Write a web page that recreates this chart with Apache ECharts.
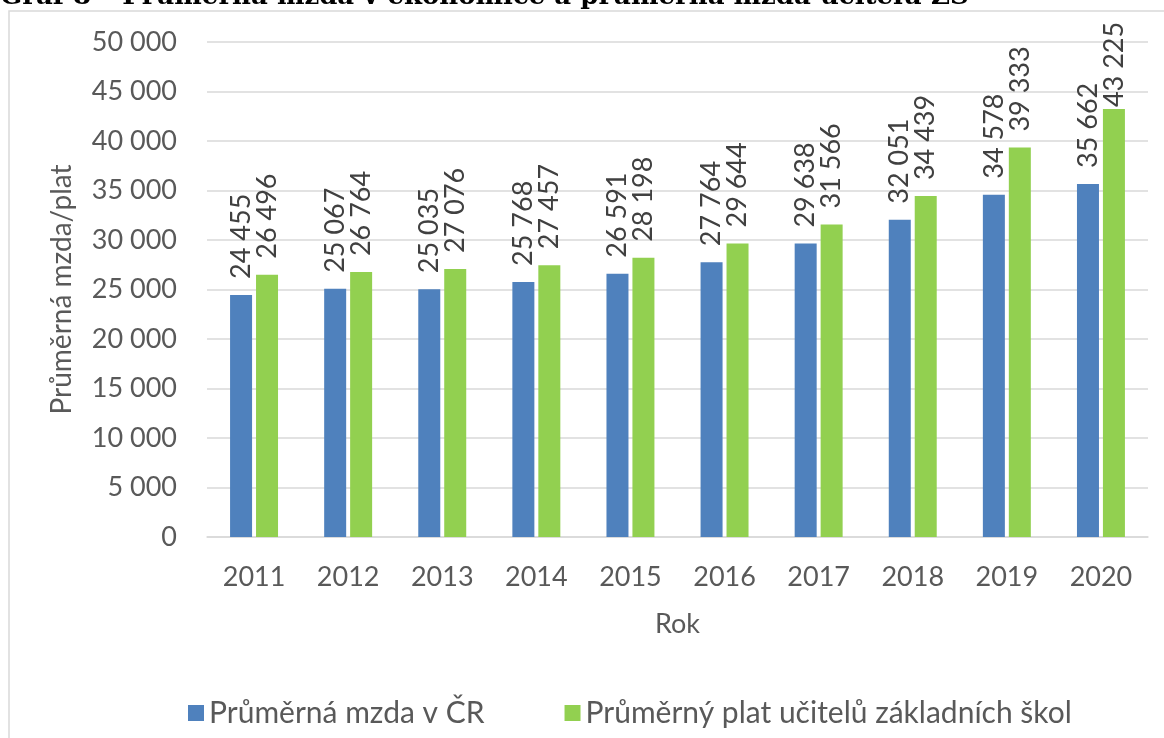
<!DOCTYPE html>
<html>
<head>
<meta charset="utf-8">
<script src="https://cdn.jsdelivr.net/npm/echarts@6/dist/echarts.min.js"></script>
<style>
  html, body { margin: 0; padding: 0; background: #fff; }
  #chart { width: 1164px; height: 738px; }
</style>
</head>
<body>
<div id="chart"></div>
<script>
// data
const years = ['2011', '2012', '2013', '2014', '2015', '2016', '2017', '2018', '2019', '2020'];
const mzdaCR = [24455, 25067, 25035, 25768, 26591, 27764, 29638, 32051, 34578, 35662];
const platUcitelu = [26496, 26764, 27076, 27457, 28198, 29644, 31566, 34439, 39333, 43225];
const seriesNames = ['Průměrná mzda v ČR', 'Průměrný plat učitelů základních škol'];

const FONT = 'Lato, "Open Sans", sans-serif';
const TEXT = '#595959';

// 24455 -> "24 455"
const fmt = v => String(v).replace(/\B(?=(\d{3})+(?!\d))/g, ' ');

const chart = echarts.init(document.getElementById('chart'));

const labelCfg = {
    show: true,
    position: 'top',
    rotate: 90,
    align: 'left',
    verticalAlign: 'middle',
    distance: 16,
    fontFamily: FONT,
    fontSize: 27,
    color: '#404040',
    formatter: p => fmt(p.value)
};

// the tallest label is pushed down onto its bar, as in the original
const greenData = platUcitelu.map((v, i) =>
    i === platUcitelu.length - 1 ? { value: v, label: { distance: 2 } } : v);

chart.setOption({
    animation: false,
    textStyle: { fontFamily: FONT },
    graphic: [
        {
            type: 'text',
            left: 0,
            top: -16,
            style: {
                text: 'Graf 8 – Průměrná mzda v ekonomice a průměrná mzda učitelů ZŠ',
                font: 'bold 26px "DejaVu Serif", serif',
                fill: '#000'
            }
        },
        {
            type: 'rect',
            shape: { x: 9, y: 11, width: 1170, height: 740 },
            style: { fill: 'none', stroke: '#d9d9d9', lineWidth: 1.5 }
        }
    ],
    grid: { left: 207, right: 16, top: 42, bottom: 201 },
    legend: {
        left: 183,
        top: 693,
        icon: 'rect',
        itemWidth: 16,
        itemHeight: 16,
        itemGap: 80,
        textStyle: { fontFamily: FONT, fontSize: 30, color: TEXT },
        data: seriesNames
    },
    xAxis: {
        type: 'category',
        data: years,
        name: 'Rok',
        nameLocation: 'middle',
        nameGap: 74,
        nameTextStyle: { fontFamily: FONT, fontSize: 27, color: TEXT },
        axisLine: { lineStyle: { color: '#d9d9d9', width: 1.5 } },
        axisTick: { show: false },
        axisLabel: { fontFamily: FONT, fontSize: 27, color: TEXT, margin: 27 }
    },
    yAxis: {
        type: 'value',
        min: 0,
        max: 50000,
        interval: 5000,
        name: 'Průměrná mzda/plat',
        nameLocation: 'middle',
        nameGap: 131,
        nameTextStyle: { fontFamily: FONT, fontSize: 28, color: TEXT },
        axisLine: { show: false },
        axisTick: { show: false },
        axisLabel: { fontFamily: FONT, fontSize: 27, color: TEXT, margin: 30, formatter: v => fmt(v) },
        splitLine: { lineStyle: { color: '#d9d9d9', width: 1.5 } }
    },
    series: [
        {
            name: seriesNames[0],
            type: 'bar',
            data: mzdaCR,
            barWidth: 22,
            barGap: '18%',
            itemStyle: { color: '#4f81bd' },
            label: labelCfg
        },
        {
            name: seriesNames[1],
            type: 'bar',
            data: greenData,
            barWidth: 22,
            itemStyle: { color: '#92d050' },
            label: labelCfg
        }
    ]
});
</script>
</body>
</html>
